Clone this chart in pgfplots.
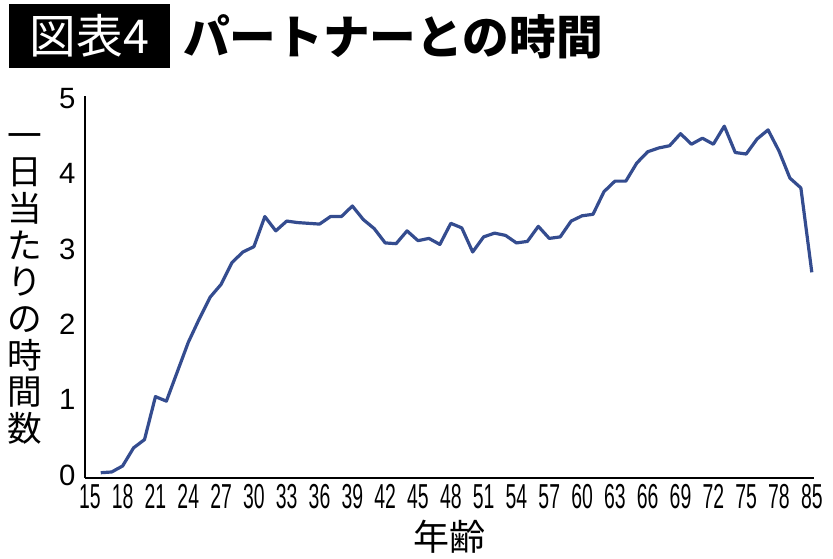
\documentclass[border=0pt]{standalone}
\usepackage{fontspec}
\usepackage{pgfplots}
\pgfplotsset{compat=1.18}
\setmainfont{Liberation Sans}
\newfontfamily\jp{Noto Sans CJK JP}
\newfontfamily\cond[FakeStretch=0.56]{Liberation Sans}
\definecolor{lineblue}{RGB}{52,76,143}

% hours per day spent with partner, by age
\pgfplotstableread{
age hours
16 0.03
17 0.04
18 0.12
19 0.36
20 0.47
21 1.04
22 0.98
23 1.37
24 1.76
25 2.07
26 2.36
27 2.53
28 2.82
29 2.96
30 3.03
31 3.43
32 3.24
33 3.37
34 3.35
35 3.34
36 3.33
37 3.43
38 3.43
39 3.57
40 3.39
41 3.27
42 3.08
43 3.07
44 3.24
45 3.11
46 3.14
47 3.06
48 3.34
49 3.28
50 2.96
51 3.16
52 3.21
53 3.18
54 3.08
55 3.10
56 3.30
57 3.14
58 3.16
59 3.37
60 3.44
61 3.46
62 3.76
63 3.90
64 3.90
65 4.14
66 4.29
67 4.34
68 4.37
69 4.53
70 4.39
71 4.47
72 4.39
73 4.63
74 4.28
75 4.26
76 4.46
77 4.58
78 4.30
79 3.94
80 3.81
81 2.69
}\partnertime

\begin{document}
\begin{tikzpicture}
\begin{axis}[
    scale only axis,
    width=546.75pt,
    height=286.5pt,
    xmin=14.56, xmax=81.2,
    ymin=-0.04, ymax=5.03,
    axis lines=left,
    axis line style={black, line width=1.4pt, -},
    xtick={15,18,21,24,27,30,33,36,39,42,45,48,51,54,57,60,63,66,69,72,75,78,81},
    xticklabels={15,18,21,24,27,30,33,36,39,42,45,48,51,54,57,60,63,66,69,72,75,78,85},
    ytick={0,1,2,3,4,5},
    major tick length=0pt,
    /pgf/number format/assume math mode=true,
    xticklabel style={font=\cond\fontsize{26}{26}\selectfont, anchor=north, inner sep=0pt, yshift=-4.5pt},
    yticklabel style={font=\fontsize{22}{22}\selectfont, anchor=east, inner sep=0pt, xshift=-7pt},
    xlabel={年齢},
    xlabel style={font=\jp\fontsize{27}{27}\selectfont, at={(axis description cs:0.5,-0.1545)}, anchor=center},
    clip=false,
]
\addplot[lineblue, line width=2.4pt, line join=round] table[x=age, y=hours] {\partnertime};

% vertical axis label, one character per line
\node[font=\jp\fontsize{26}{27.5}\selectfont, align=center, inner sep=0pt]
    at (rel axis cs:-0.0823,0.495) {一\\日\\当\\た\\り\\の\\時\\間\\数};

% title
\node[fill=black, text=white, minimum width=120.75pt, minimum height=48pt, inner sep=0pt,
      font=\jp\fontsize{35}{35}\selectfont]
    at (rel axis cs:0.0062,1.157) {図表4};
\node[anchor=west, inner sep=0pt, font=\jp\bfseries\fontsize{35}{35}\selectfont]
    at (rel axis cs:0.1344,1.1545) {パートナーとの時間};
\end{axis}
\pgfresetboundingbox
\path (current axis.south west) ++(-63.75pt,-60pt) rectangle ++(624.75pt,418.5pt);
\end{tikzpicture}
\end{document}
